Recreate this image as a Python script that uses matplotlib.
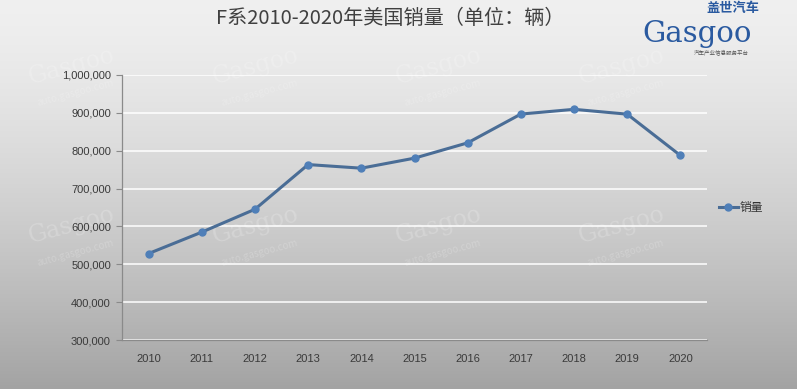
import matplotlib
matplotlib.use('agg')

import matplotlib.pyplot as plt
import numpy as np
from matplotlib.ticker import FuncFormatter

plt.rcParams['font.family'] = ['Noto Sans CJK SC', 'DejaVu Sans']

# F系 US sales per year
years = ['2010', '2011', '2012', '2013', '2014', '2015',
         '2016', '2017', '2018', '2019', '2020']
sales = [528349, 584917, 645316, 763402, 753851, 780354,
         820799, 896764, 909330, 896526, 787422]
series_name = '销量'
title = 'F系2010-2020年美国销量（单位：辆）'

W, H = 797, 389
fig = plt.figure(figsize=(W / 100, H / 100), dpi=100)

# grey vertical gradient background
bg = fig.add_axes([0, 0, 1, 1], zorder=-10)
grad = np.linspace(0, 1, 256).reshape(-1, 1)
top = np.array([0.94, 0.94, 0.94])
bot = np.array([0.64, 0.64, 0.64])
img = top + (bot - top) * (grad ** 1.4)[:, :, None]
bg.imshow(np.repeat(img, 2, axis=1), aspect='auto', extent=[0, 1, 0, 1])
bg.set_xlim(0, 1)
bg.set_ylim(0, 1)
bg.axis('off')

# faint watermarks
for (wx, wy) in [(0.09, 0.83), (0.32, 0.83), (0.55, 0.83), (0.78, 0.83),
                 (0.09, 0.42), (0.32, 0.42), (0.55, 0.42), (0.78, 0.42)]:
    bg.text(wx, wy, 'Gasgoo', fontsize=17, color='white', alpha=0.2,
            rotation=15, ha='center', va='center', family='DejaVu Serif')
    bg.text(wx + 0.005, wy - 0.07, 'auto.gasgoo.com', fontsize=7, color='white',
            alpha=0.2, rotation=15, ha='center', va='center')

ax = fig.add_axes([122 / W, 1 - 340 / H, (707 - 122) / W, (340 - 75) / H])
ax.patch.set_alpha(0)

x = np.arange(len(years))
ax.plot(x, sales, color='#4a6d96', lw=2.2, marker='o', ms=5,
        mfc='#4f7fb8', mec='#4f7fb8', label=series_name, zorder=3)

ax.set_xlim(-0.5, len(years) - 0.5)
ax.set_ylim(300000, 1000000)
ax.set_yticks(np.arange(300000, 1000001, 100000))
ax.yaxis.set_major_formatter(FuncFormatter(lambda v, p: f'{int(v):,}'))
ax.set_xticks(x)
ax.set_xticklabels(years)
ax.grid(axis='y', color='white', lw=1.1)
ax.set_axisbelow(True)

for s in ['top', 'right']:
    ax.spines[s].set_visible(False)
for s in ['left', 'bottom']:
    ax.spines[s].set_color('#8a8a8a')
    ax.spines[s].set_linewidth(0.9)

ax.tick_params(axis='y', length=4, color='#8a8a8a', labelsize=8,
               labelcolor='#3a3a3a', pad=4)
ax.tick_params(axis='x', length=0, labelsize=8, labelcolor='#3a3a3a', pad=10)
for lab in ax.get_xticklabels() + ax.get_yticklabels():
    lab.set_family(['Liberation Sans', 'DejaVu Sans'])

leg = ax.legend(loc='center left', bbox_to_anchor=(1.01, 0.5), frameon=False,
                fontsize=8.5, handlelength=1.6, handletextpad=0.2, borderpad=0)
for t in leg.get_texts():
    t.set_color('#333333')

fig.text(0.49, 1 - 18 / H, title, fontsize=14.5, color='#404040',
         ha='center', va='center')

# logo in the top right
fig.text(0.92, 1 - 8 / H, '盖世汽车', fontsize=9.5, color='#2a5aa0',
         ha='center', va='center', fontweight='bold')
fig.text(0.875, 1 - 34 / H, 'Gasgoo', fontsize=21, color='#2a5aa0',
         ha='center', va='center', family='DejaVu Serif')
fig.text(0.905, 1 - 52 / H, '汽车产业信息服务平台', fontsize=4, color='#555555',
         ha='center', va='center')

fig.savefig('out.png', dpi=100)
